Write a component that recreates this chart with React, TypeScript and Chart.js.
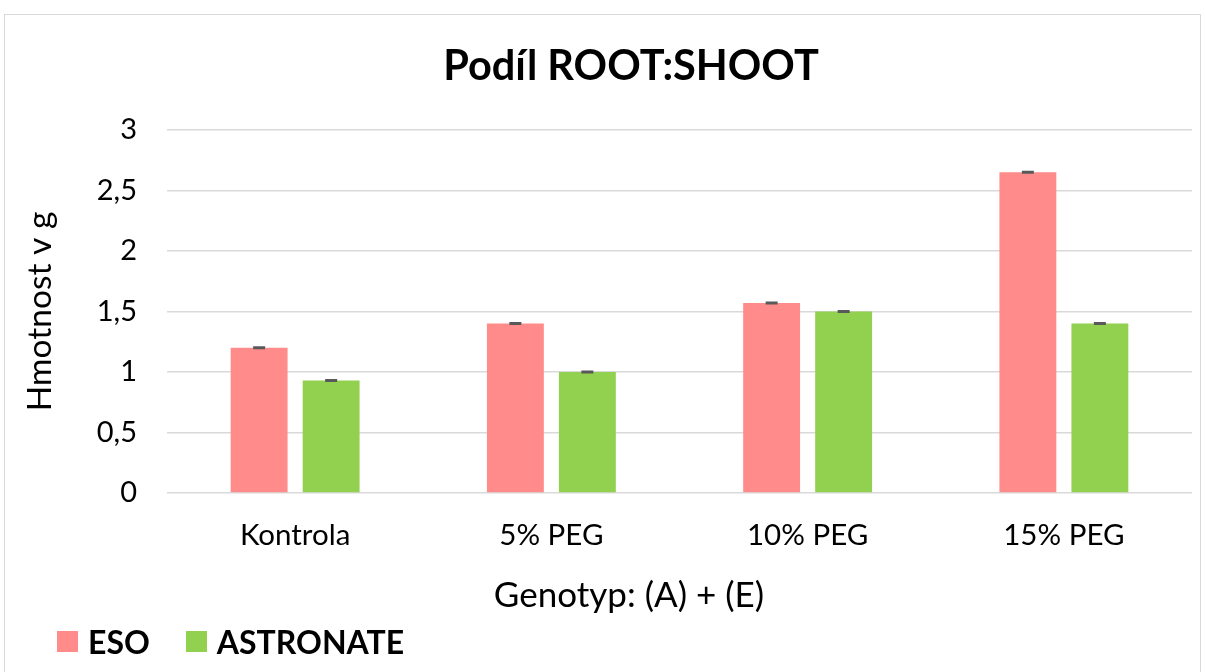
import React, { useEffect, useRef } from 'react';
import { Chart, registerables } from 'chart.js';

Chart.register(...registerables);

const categories = ['Kontrola', '5% PEG', '10% PEG', '15% PEG'];
const esoValues = [1.2, 1.4, 1.57, 2.65];
const astronateValues = [0.93, 1.0, 1.5, 1.4];
const esoErrors = [0.004, 0.004, 0.004, 0.004];
const astronateErrors = [0.004, 0.004, 0.004, 0.004];
const seriesNames = ['ESO', 'ASTRONATE'];
const seriesColors = ['#FF8B8B', '#92D050'];
const yMin = 0;
const yMax = 3;
const yStep = 0.5;

const FONT = 'Lato, "Open Sans", sans-serif';

const errorBarPlugin = {
  id: 'errorBars',
  afterDatasetsDraw(chart: any) {
    const ctx = chart.ctx;
    const yScale = chart.scales.y;
    const errs = [esoErrors, astronateErrors];
    chart.data.datasets.forEach((ds: any, di: number) => {
      const meta = chart.getDatasetMeta(di);
      meta.data.forEach((bar: any, i: number) => {
        const v = ds.data[i];
        const e = errs[di][i];
        const yTop = yScale.getPixelForValue(v + e);
        const yBot = yScale.getPixelForValue(v - e);
        const x = bar.x;
        ctx.save();
        ctx.strokeStyle = '#595959';
        ctx.lineWidth = 2;
        ctx.beginPath();
        ctx.moveTo(x - 6, yTop);
        ctx.lineTo(x + 6, yTop);
        ctx.moveTo(x - 6, yBot);
        ctx.lineTo(x + 6, yBot);
        ctx.moveTo(x, yTop);
        ctx.lineTo(x, yBot);
        ctx.stroke();
        ctx.restore();
      });
    });
  },
};

export default function App() {
  const ref = useRef<HTMLCanvasElement | null>(null);

  useEffect(() => {
    document.body.style.margin = '0';
    const canvas = ref.current;
    if (!canvas) return;
    const chart = new Chart(canvas, {
      type: 'bar',
      data: {
        labels: categories,
        datasets: [
          {
            label: seriesNames[0],
            data: esoValues,
            backgroundColor: seriesColors[0],
            categoryPercentage: 0.562,
            barPercentage: 0.79,
          },
          {
            label: seriesNames[1],
            data: astronateValues,
            backgroundColor: seriesColors[1],
            categoryPercentage: 0.562,
            barPercentage: 0.79,
          },
        ],
      },
      options: {
        animation: false,
        responsive: false,
        maintainAspectRatio: false,
        layout: { padding: { top: 130, right: 13, left: 0, bottom: 99 } },
        plugins: {
          legend: { display: false },
          title: { display: false },
          tooltip: { enabled: false },
        },
        scales: {
          x: {
            grid: { display: false },
            border: { display: false },
            ticks: {
              color: '#000',
              font: { family: FONT, size: 29.5 },
              padding: 17,
            },
            afterFit: (scale: any) => {
              scale.height = 80;
            },
          },
          y: {
            min: yMin,
            max: yMax,
            grid: { color: '#d9d9d9', lineWidth: 1.5, drawTicks: false },
            border: { display: false },
            ticks: {
              stepSize: yStep,
              color: '#000',
              font: { family: FONT, size: 29 },
              padding: 30,
              callback: (v: any) => String(v).replace('.', ','),
            },
            title: {
              display: true,
              text: 'Hmotnost v g',
              color: '#000',
              font: { family: FONT, size: 33.5 },
              padding: { top: 20, bottom: 0 },
            },
            afterFit: (scale: any) => {
              scale.width = 167;
            },
          },
        },
      },
      plugins: [errorBarPlugin],
    });
    return () => chart.destroy();
  }, []);

  return (
    <div style={{ position: 'fixed', left: 0, top: 0, width: 1205, height: 672, background: '#fff', overflow: 'hidden', fontFamily: FONT }}>
      <div style={{ position: 'absolute', left: 4, top: 14, width: 1197, height: 700, border: '1.5px solid #d9d9d9', boxSizing: 'border-box' }} />
      <canvas ref={ref} width={1205} height={672} style={{ position: 'absolute', left: 0, top: 0 }} />
      <div style={{ position: 'absolute', left: 0, width: 1262, top: 39, textAlign: 'center', fontWeight: 700, fontSize: 41.5, color: '#000', lineHeight: '50px' }}>
        Podíl ROOT:SHOOT
      </div>
      <div style={{ position: 'absolute', left: 0, width: 1258, top: 573, textAlign: 'center', fontSize: 35, color: '#000', lineHeight: '40px' }}>
        Genotyp: (A) + (E)
      </div>
      <div style={{ position: 'absolute', left: 57, top: 621, display: 'flex', alignItems: 'center', height: 40, fontWeight: 700, fontSize: 32, color: '#000' }}>
        <span style={{ display: 'inline-block', width: 21, height: 21, background: seriesColors[0], marginRight: 10 }} />
        <span style={{ marginRight: 36 }}>{seriesNames[0]}</span>
        <span style={{ display: 'inline-block', width: 21, height: 21, background: seriesColors[1], marginRight: 10 }} />
        <span>{seriesNames[1]}</span>
      </div>
    </div>
  );
}
